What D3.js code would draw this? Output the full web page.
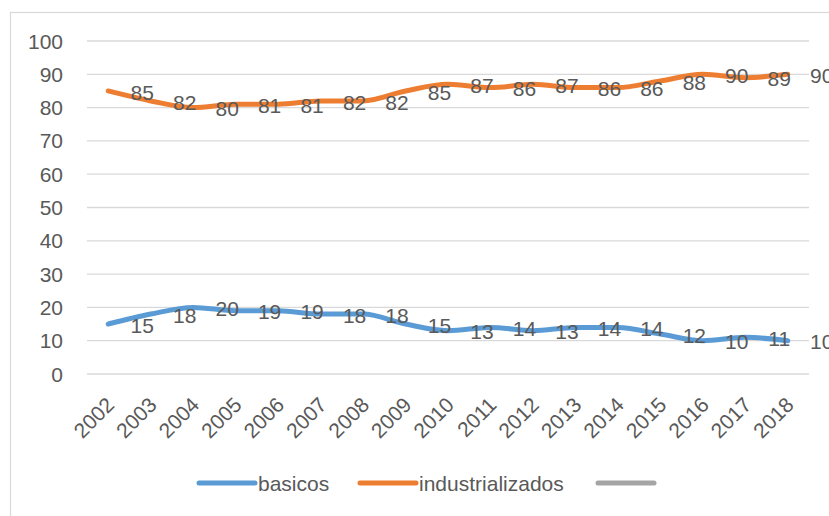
<!DOCTYPE html>
<meta charset="utf-8">
<style>
  body { margin: 0; background: #fff; }
  text { font-family: "Liberation Sans", Arial, sans-serif; fill: #595959; }
</style>
<body>
<div id="chart"></div>
<script src="https://d3js.org/d3.v7.min.js"></script>
<script>

// Data
var years = ["2002","2003","2004","2005","2006","2007","2008","2009","2010",
             "2011","2012","2013","2014","2015","2016","2017","2018"];
var basicos = [15,18,20,19,19,18,18,15,13,14,13,14,14,12,10,11,10];
var industrializados = [85,82,80,81,81,82,82,85,87,86,87,86,86,88,90,89,90];
var yTicks = [0,10,20,30,40,50,60,70,80,90,100];
var seriesNames = ["basicos","industrializados",""];
var colors = ["#5b9bd5","#ed7d31","#a5a5a5"];

var width = 829, height = 516;
var fontSize = 21;

var svg = d3.select("#chart").append("svg")
    .attr("width", width)
    .attr("height", height);

// chart area border (runs off the right and bottom edge)
svg.append("rect")
    .attr("x", 10.5).attr("y", 12.5)
    .attr("width", 840).attr("height", 520)
    .attr("fill", "none")
    .attr("stroke", "#d9d9d9")
    .attr("stroke-width", 1.2);

var x = d3.scaleBand().domain(years).range([87, 809]);
var y = d3.scaleLinear().domain([0, 100]).range([374, 41]);
var cx = function(d) { return x(d) + x.bandwidth() / 2; };

// gridlines
svg.append("g")
  .selectAll("line")
  .data(yTicks)
  .enter().append("line")
    .attr("x1", 87).attr("x2", 809)
    .attr("y1", function(d) { return y(d); })
    .attr("y2", function(d) { return y(d); })
    .attr("stroke", "#d9d9d9")
    .attr("stroke-width", 1.3);

// y tick labels
svg.append("g")
  .selectAll("text")
  .data(yTicks)
  .enter().append("text")
    .attr("x", 63)
    .attr("y", function(d) { return y(d); })
    .attr("dy", "0.36em")
    .attr("text-anchor", "end")
    .style("font-size", fontSize + "px")
    .text(function(d) { return d; });

// x tick labels, rotated
svg.append("g")
  .selectAll("text")
  .data(years)
  .enter().append("text")
    .attr("transform", function(d) { return "translate(" + (cx(d) + 2) + ",401) rotate(-45)"; })
    .attr("dy", "0.36em")
    .attr("text-anchor", "end")
    .style("font-size", fontSize + "px")
    .text(function(d) { return d; });

var line = d3.line()
    .x(function(d, i) { return cx(years[i]); })
    .y(function(d) { return y(d); })
    .curve(d3.curveMonotoneX);

var allSeries = [basicos, industrializados];

allSeries.forEach(function(vals, k) {
  svg.append("path")
      .datum(vals)
      .attr("fill", "none")
      .attr("stroke", colors[k])
      .attr("stroke-width", 5)
      .attr("stroke-linecap", "round")
      .attr("stroke-linejoin", "round")
      .attr("d", line);
});

// data labels (sit to the right of each point)
allSeries.forEach(function(vals, k) {
  svg.append("g")
    .selectAll("text")
    .data(vals)
    .enter().append("text")
      .attr("x", function(d, i) { return cx(years[i]) + x.step() * 0.8; })
      .attr("y", function(d) { return y(d) + 1; })
      .attr("dy", "0.36em")
      .attr("text-anchor", "middle")
      .style("font-size", fontSize + "px")
      .text(function(d) { return d; });
});

// legend
var legendX = [199, 360, 598];
var legend = svg.append("g")
  .selectAll("g")
  .data(seriesNames)
  .enter().append("g")
    .attr("transform", function(d, i) { return "translate(" + legendX[i] + ",483)"; });

legend.append("line")
    .attr("x1", 0).attr("x2", 56)
    .attr("stroke", function(d, i) { return colors[i]; })
    .attr("stroke-width", 5)
    .attr("stroke-linecap", "round");

legend.append("text")
    .attr("x", 59)
    .attr("dy", "0.36em")
    .style("font-size", fontSize + "px")
    .text(function(d) { return d; });

</script>
</body>
